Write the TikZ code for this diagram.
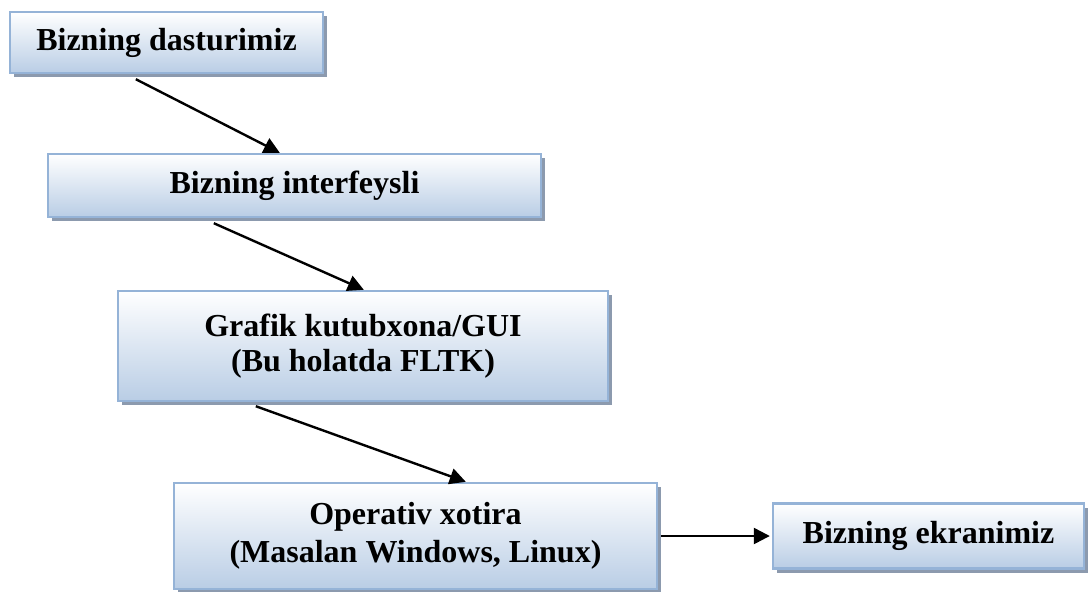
\documentclass[tikz,border=0pt]{standalone}
\usepackage{fontspec}
\setmainfont{Liberation Serif}
\usetikzlibrary{shadows,calc,arrows.meta}
\definecolor{boxbot}{RGB}{185,205,229}
\definecolor{boxedge}{RGB}{149,179,215}
\definecolor{boxshadow}{RGB}{140,154,174}
\tikzset{
  flowbox/.style={draw=boxedge, line width=1.2pt, top color=white, bottom color=boxbot,
    drop shadow={shadow xshift=2pt, shadow yshift=-2pt, fill=boxshadow, opacity=1},
    align=center, inner sep=0pt,
    font=\fontsize{16}{17.5}\selectfont\bfseries},
  arr/.style={line width=1.2pt, -{Triangle[length=8pt,width=8pt]}}
}
\begin{document}
\begin{tikzpicture}[x=0.5pt,y=-0.5pt]
\useasboundingbox (0,0) rectangle (1088,591);
\node[flowbox, minimum width=156.5pt, minimum height=30.5pt] (b1) at (166.5,42.5) {Bizning dasturimiz};
\node[flowbox, minimum width=246.5pt, minimum height=31.5pt] (b2) at (294.5,185.5) {Bizning interfeysli};
\node[flowbox, minimum width=245pt, minimum height=55pt] (b3) at (363,346) {Grafik kutubxona/GUI\\(Bu holatda FLTK)};
\node[flowbox, minimum width=241.5pt, minimum height=53pt, font=\fontsize{16}{19}\selectfont\bfseries] (b4) at (415.5,536) {Operativ xotira\\(Masalan Windows, Linux)};
\node[flowbox, minimum width=155.5pt, minimum height=32.5pt] (b5) at (928.5,536) {Bizning ekranimiz};
\draw[arr] ($(b1.south west)+(127,5)$) -- ($(b2.north west)+(233,0)$);
\draw[arr] ($(b2.south west)+(167,5)$) -- ($(b3.north west)+(247,0)$);
\draw[arr] ($(b3.south west)+(139,4)$) -- ($(b4.north west)+(293,0)$);
\draw[arr, shorten <=1.5pt, shorten >=1pt] (b4.east) -- (b5.west);
\end{tikzpicture}
\end{document}
